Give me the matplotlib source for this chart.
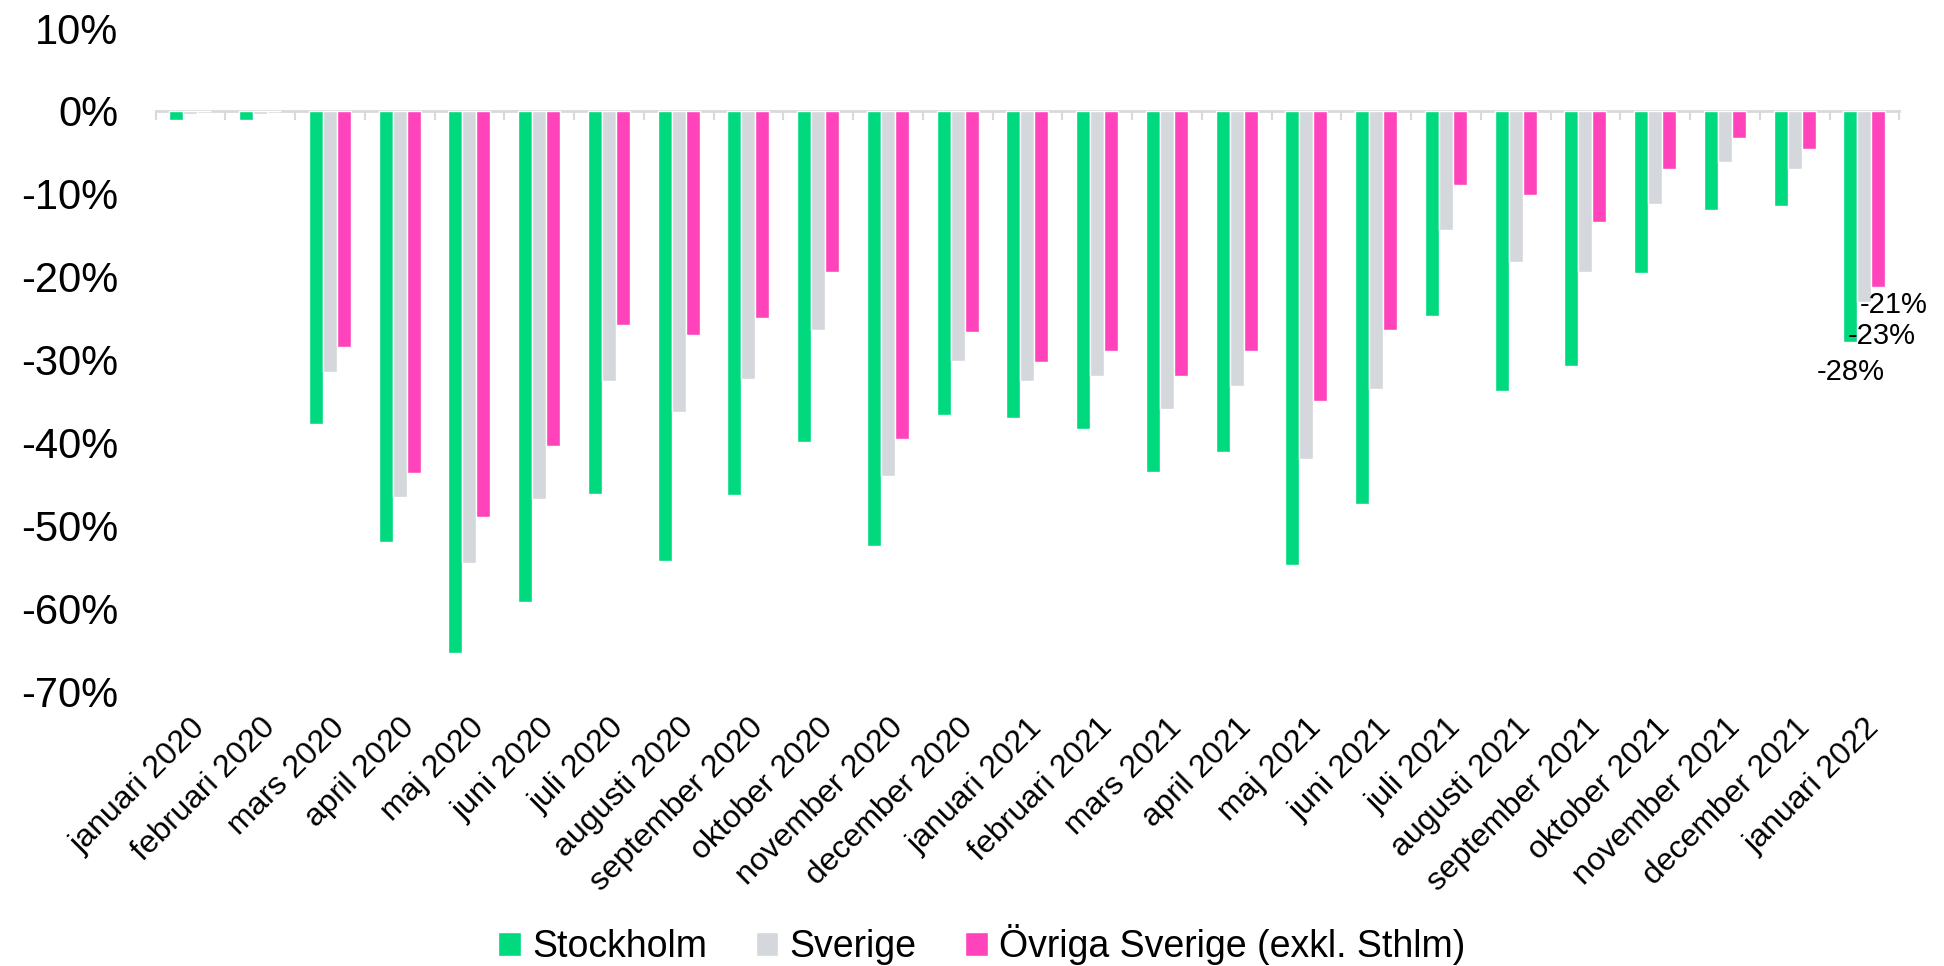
import numpy as np
import matplotlib.pyplot as plt
from matplotlib.ticker import FuncFormatter, FixedLocator

plt.rcParams["font.family"] = ["Liberation Sans", "DejaVu Sans"]

months = [
    "januari 2020", "februari 2020", "mars 2020", "april 2020", "maj 2020",
    "juni 2020", "juli 2020", "augusti 2020", "september 2020", "oktober 2020",
    "november 2020", "december 2020", "januari 2021", "februari 2021",
    "mars 2021", "april 2021", "maj 2021", "juni 2021", "juli 2021",
    "augusti 2021", "september 2021", "oktober 2021", "november 2021",
    "december 2021", "januari 2022",
]

# Change in percent
stockholm = [-1.1, -1.1, -37.7, -52.0, -65.3, -59.2, -46.2, -54.2, -46.3, -39.9,
             -52.5, -36.7, -37.0, -38.3, -43.5, -41.1, -54.7, -47.4, -24.7,
             -33.8, -30.8, -19.5, -11.9, -11.4, -27.9]
sverige = [-0.4, -0.4, -31.5, -46.5, -54.5, -46.8, -32.6, -36.3, -32.3, -26.4,
           -44.0, -30.1, -32.5, -32.0, -35.9, -33.1, -41.9, -33.5, -14.3,
           -18.2, -19.4, -11.2, -6.2, -7.0, -23.0]
ovriga = [0.0, 0.0, -28.4, -43.7, -49.0, -40.4, -25.8, -27.0, -25.0, -19.4,
          -39.5, -26.7, -30.3, -28.9, -31.9, -28.9, -35.0, -26.4, -8.9,
          -10.1, -13.4, -7.0, -3.3, -4.6, -21.2]

series = ["Stockholm", "Sverige", "Övriga Sverige (exkl. Sthlm)"]
colors = ["#00d97e", "#d4d7db", "#ff44bb"]

fig = plt.figure(figsize=(19.44, 9.66), dpi=100)
ax = fig.add_axes([0.080, 0.284, 0.897, 0.687])

x = np.arange(len(months))
w = 0.2
bars = []
for i, (vals, name, col) in enumerate(zip([stockholm, sverige, ovriga], series, colors)):
    b = ax.bar(x + (i - 1) * w, vals, width=w, color=col, edgecolor="white",
               linewidth=1, label=name)
    bars.append(b)

ymin, ymax = -70, 10
ax.set_ylim(ymin, ymax)
ax.set_xlim(-0.5, len(months) - 0.5)

for s in ["top", "right", "left", "bottom"]:
    ax.spines[s].set_visible(False)

ax.yaxis.set_major_locator(FixedLocator(np.arange(ymin, ymax + 1, 10)))
ax.yaxis.set_major_formatter(FuncFormatter(lambda v, p: f"{int(round(v))}%"))
ax.tick_params(axis="y", length=0, labelsize=30, pad=27)

ax.set_xticks(x)
ax.set_xticklabels(months, rotation=45, ha="right", va="top", rotation_mode="anchor")
ax.tick_params(axis="x", length=0, labelsize=23, pad=15)

# zero line with category boundary ticks
zero = ax.secondary_xaxis((0 - ymin) / (ymax - ymin))
zero.set_alignment("bottom")
zero.set_xticks(np.arange(-0.5, len(months), 1.0))
zero.set_xticklabels([])
zero.tick_params(axis="x", direction="out", length=6.5, width=1.5, color="#d9d9d9")
for s in ["top", "bottom"]:
    zero.spines[s].set_color("#d9d9d9")
    zero.spines[s].set_linewidth(2)

# labels on the last month
last = len(months) - 1
offsets = [(0, -30), (17, -34), (15, -18)]
for vals, (dx, dy), i in zip([stockholm, sverige, ovriga], offsets, range(3)):
    ax.annotate(f"{round(vals[last])}%", xy=(last + (i - 1) * w, vals[last]),
                xytext=(dx, dy), textcoords="offset pixels",
                ha="center", va="center", fontsize=21)

leg = fig.legend(handles=bars, labels=series, loc="center", bbox_to_anchor=(0.505, 0.022),
                 ncol=3, frameon=False, fontsize=27, handlelength=0.6,
                 handleheight=0.6, handletextpad=0.3, columnspacing=1.3)

fig.savefig("out.png", dpi=100)
